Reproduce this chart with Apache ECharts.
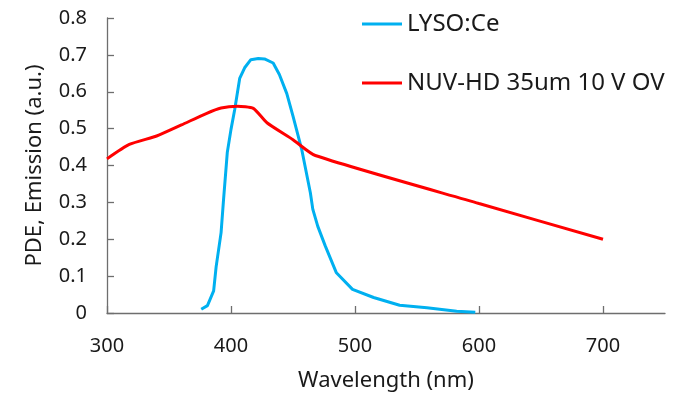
<!DOCTYPE html>
<html>
<head>
<meta charset="utf-8">
<script src="https://cdn.jsdelivr.net/npm/echarts@6/dist/echarts.min.js"></script>
<style>
  html, body { margin: 0; padding: 0; background: #fff; }
  #chart { width: 677px; height: 397px; }
</style>
</head>
<body>
<div id="chart"></div>
<script>
// wavelength (nm) / value pairs
const lysoWl = [376, 381, 386, 388, 392, 394, 397, 400, 403, 407, 411, 416, 422, 427, 434, 439, 445, 450, 457, 464, 466, 470, 476, 485, 498, 515, 536, 558, 582, 597];
const lysoVal = [0.01, 0.02, 0.06, 0.125, 0.218, 0.308, 0.435, 0.498, 0.552, 0.636, 0.665, 0.687, 0.69, 0.689, 0.678, 0.647, 0.595, 0.534, 0.444, 0.326, 0.281, 0.235, 0.182, 0.109, 0.064, 0.042, 0.021, 0.014, 0.005, 0.002];

const nuvWl = [300, 318, 340, 360, 380, 392, 405, 418, 429, 450, 468, 600, 700];
const nuvVal = [0.418, 0.457, 0.48, 0.51, 0.541, 0.556, 0.561, 0.555, 0.516, 0.47, 0.427, 0.297, 0.2];

const xTicks = [300, 400, 500, 600, 700];

const seriesNames = ['LYSO:Ce', 'NUV-HD 35um 10 V OV'];
const seriesColors = ['#00b0f0', '#ff0000'];

const pairs = (xs, ys) => xs.map((x, i) => [x, ys[i]]);

const chart = echarts.init(document.getElementById('chart'));

const font = 'Noto Sans';
const textColor = '#1a1a1a';
const axisColor = '#6e6e6e';

chart.setOption({
    animation: false,
    grid: {
        left: 107,
        right: 12,
        top: 18,
        bottom: 83
    },
    legend: {
        orient: 'vertical',
        left: 362,
        top: 10,
        padding: 0,
        itemWidth: 40,
        itemHeight: 3,
        itemGap: 31,
        icon: 'rect',
        textStyle: {
            fontFamily: font,
            fontSize: 24,
            lineHeight: 28,
            color: textColor
        },
        data: seriesNames
    },
    xAxis: {
        type: 'value',
        min: 300,
        max: 750,
        interval: 100,
        name: 'Wavelength (nm)',
        nameLocation: 'middle',
        nameGap: 57,
        nameTextStyle: { fontFamily: font, fontSize: 22, color: textColor },
        axisLine: { lineStyle: { color: axisColor, width: 1.3 } },
        axisTick: {
            inside: true,
            length: 7,
            customValues: xTicks,
            lineStyle: { color: axisColor, width: 1.3 }
        },
        axisLabel: {
            customValues: xTicks,
            margin: 23,
            fontFamily: font,
            fontSize: 20,
            color: textColor
        },
        splitLine: { show: false }
    },
    yAxis: {
        type: 'value',
        min: 0,
        max: 0.8,
        interval: 0.1,
        name: 'PDE, Emission (a.u.)',
        nameLocation: 'middle',
        nameGap: 61,
        nameTextStyle: { fontFamily: font, fontSize: 22, color: textColor },
        axisLine: { show: true, lineStyle: { color: axisColor, width: 1.3 } },
        axisTick: {
            show: true,
            inside: true,
            length: 7,
            lineStyle: { color: axisColor, width: 1.3 }
        },
        axisLabel: {
            margin: 20,
            fontFamily: font,
            fontSize: 20,
            color: textColor
        },
        splitLine: { show: false }
    },
    series: [
        {
            name: seriesNames[0],
            type: 'line',
            data: pairs(lysoWl, lysoVal),
            symbol: 'none',
            smooth: false,
            lineStyle: { color: seriesColors[0], width: 3 },
            itemStyle: { color: seriesColors[0] }
        },
        {
            name: seriesNames[1],
            type: 'line',
            data: pairs(nuvWl, nuvVal),
            symbol: 'none',
            smooth: 0.2,
            lineStyle: { color: seriesColors[1], width: 3 },
            itemStyle: { color: seriesColors[1] }
        }
    ]
});
</script>
</body>
</html>
